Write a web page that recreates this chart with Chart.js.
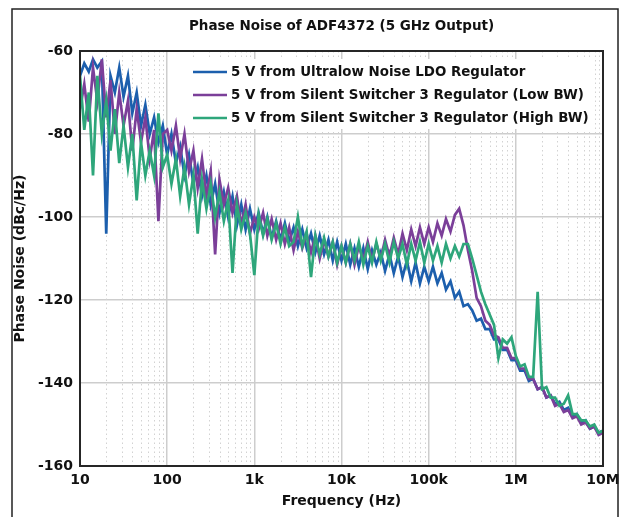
<!DOCTYPE html>
<html>
<head>
<meta charset="utf-8">
<script src="https://cdn.jsdelivr.net/npm/chart.js@4.4.1/dist/chart.umd.min.js"></script>
<style>
    html, body { margin: 0; padding: 0; background: #fff; }
    canvas { display: block; }
</style>
</head>
<body>
<canvas id="chart" width="620" height="517"></canvas>
<script>
// offset frequency (Hz), 20 points per decade
const frequencies = [
    10, 11.2, 12.6, 14.1, 15.8, 17.8, 20, 22.4, 25.1, 28.2,
    31.6, 35.5, 39.8, 44.7, 50.1, 56.2, 63.1, 70.8, 79.4, 89.1,
    100, 112, 126, 141, 158, 178, 200, 224, 251, 282,
    316, 355, 398, 447, 501, 562, 631, 708, 794, 891,
    1000, 1120, 1260, 1410, 1580, 1780, 2000, 2240, 2510, 2820,
    3160, 3550, 3980, 4470, 5010, 5620, 6310, 7080, 7940, 8910,
    1e4, 1.12e4, 1.26e4, 1.41e4, 1.58e4, 1.78e4, 2e4, 2.24e4, 2.51e4, 2.82e4,
    3.16e4, 3.55e4, 3.98e4, 4.47e4, 5.01e4, 5.62e4, 6.31e4, 7.08e4, 7.94e4, 8.91e4,
    1e5, 1.12e5, 1.26e5, 1.41e5, 1.58e5, 1.78e5, 2e5, 2.24e5, 2.51e5, 2.82e5,
    3.16e5, 3.55e5, 3.98e5, 4.47e5, 5.01e5, 5.62e5, 6.31e5, 7.08e5, 7.94e5, 8.91e5,
    1e6, 1.12e6, 1.26e6, 1.41e6, 1.58e6, 1.78e6, 2e6, 2.24e6, 2.51e6, 2.82e6,
    3.16e6, 3.55e6, 3.98e6, 4.47e6, 5.01e6, 5.62e6, 6.31e6, 7.08e6, 7.94e6, 8.91e6,
    1e7
];

// phase noise (dBc/Hz)
const ldoNoise = [
    -66, -63, -65, -62, -64, -62.5, -104, -66, -70, -64,
    -71, -66, -75, -70, -78, -73, -80, -76, -82, -78,
    -85, -80, -87, -83, -90, -85, -92, -88, -95, -90,
    -97, -92, -99, -94, -100, -95, -102, -97, -103, -98,
    -103, -99, -104, -100, -105, -101, -105.5, -101.5, -106, -102.5,
    -107, -103, -107.5, -104, -108.5, -104.5, -109, -105.5, -110.5, -106,
    -110.5, -106.5, -111.5, -107.5, -112, -107.5, -112.5, -108, -111.5, -108.5,
    -113, -109, -113.5, -109.5, -114.5, -110.5, -115.5, -111, -116, -112,
    -115.5, -112, -116, -113.5, -117.5, -115.5, -119.5, -118, -121.5, -121,
    -122.5, -125, -124.5, -127, -127, -129.5, -129.5, -132, -132, -134.5,
    -134.5, -137, -137, -139.5, -139, -141.5, -141, -143.5, -143, -145,
    -144.5, -146.5, -146, -148, -147.5, -149.5, -149, -151, -150.5, -152,
    -151.5
];

const lowBwNoise = [
    -74, -68, -77, -64, -72, -62, -76, -67, -80, -70,
    -78, -72, -84, -74, -82, -76, -86, -79, -101, -80,
    -79, -84, -78, -86, -80, -89, -84, -93, -86, -95,
    -89, -109, -91, -97, -93, -99, -95, -102, -97, -104,
    -100, -103, -99, -104.5, -100.5, -105.5, -101.5, -106.5, -102.5, -108,
    -103.5, -107.5, -104, -108.5, -104.5, -110, -105.5, -109.5, -106, -111.5,
    -107, -111, -106.5, -111.5, -107, -110.5, -106, -110.5, -106.5, -110,
    -105.5, -109.5, -105, -109, -104, -108, -103, -107, -102.5, -106.5,
    -102.5, -106, -101.5, -104.5, -100.5, -103.5, -99.5, -98, -102, -108,
    -113, -119.5, -121.5, -125, -126, -128.5, -129, -131.5, -131.5, -134,
    -134, -136.5, -136.5, -139, -139, -141.5, -141, -143.5, -143, -145.5,
    -145, -147, -146.5, -148.5, -148, -150, -149.5, -151, -150.5, -152.5,
    -152
];

const highBwNoise = [
    -66, -79, -70, -90, -66, -80, -72, -84, -74, -87,
    -78, -88, -80, -96, -82, -90, -84, -90, -75, -88,
    -85, -92, -86, -95, -88, -97, -90, -104, -91, -98,
    -92, -100, -94, -101, -96, -113.5, -97, -103, -99, -104,
    -114, -99.5, -104.5, -100.5, -105.5, -101.5, -106.5, -102.5, -107, -106,
    -100, -107, -103.5, -114.5, -104.5, -109, -105, -109.5, -106, -111,
    -107, -111, -106.5, -110.5, -106, -111.5, -107, -111, -106, -110.5,
    -106.5, -111, -106, -110, -106.5, -111.5, -106.5, -110.5, -106, -111,
    -106.5, -110.5, -107, -111, -106.5, -110, -107, -109.5, -106.5, -106.5,
    -110, -114, -118, -121, -123.5, -126, -134, -129.5, -130.5, -129,
    -133.5, -136, -135.5, -138.5, -138.5, -118, -141.5, -141, -143.5, -143.5,
    -145.5, -145, -143, -147.5, -147.5, -149, -149, -150.5, -150, -152,
    -151.5
];

const seriesNames = [
    '5 V from Ultralow Noise LDO Regulator',
    '5 V from Silent Switcher 3 Regulator (Low BW)',
    '5 V from Silent Switcher 3 Regulator (High BW)'
];
const seriesColors = ['#1c5fad', '#7b3f99', '#2ea67b'];

const xTickValues = [10, 100, 1e3, 1e4, 1e5, 1e6, 1e7];
const xTickLabels = ['10', '100', '1k', '10k', '100k', '1M', '10M'];
const yTickValues = [-160, -140, -120, -100, -80, -60];

const FONT = 'DejaVu Sans';
Chart.defaults.font.family = FONT;
Chart.defaults.color = '#111';

function toPoints(values) {
    return values.map((v, i) => ({ x: frequencies[i], y: v }));
}

const extras = {
    id: 'extras',
    beforeDatasetsDraw(chart) {
        // dotted minor grid between decades
        const { ctx, chartArea: a, scales: { x } } = chart;
        ctx.save();
        ctx.strokeStyle = '#d2d2d2';
        ctx.lineWidth = 1;
        ctx.setLineDash([1.5, 3]);
        xTickValues.slice(0, -1).forEach(d => {
            for (let m = 2; m <= 9; m++) {
                const px = Math.round(x.getPixelForValue(d * m)) + 0.5;
                ctx.beginPath();
                ctx.moveTo(px, a.top);
                ctx.lineTo(px, a.bottom);
                ctx.stroke();
            }
        });
        ctx.restore();
    },
    afterDatasetsDraw(chart) {
        const { ctx, chartArea: a } = chart;
        ctx.save();
        // legend
        const lx = a.left + 113, ly = a.top + 21;
        ctx.fillStyle = '#fff';
        ctx.fillRect(lx - 7, ly - 13, 405, 70);
        ctx.font = 'bold 13.4px "' + FONT + '"';
        ctx.textBaseline = 'middle';
        seriesNames.forEach((name, k) => {
            const y = ly + k * 23;
            ctx.strokeStyle = seriesColors[k];
            ctx.lineWidth = 2.5;
            ctx.beginPath();
            ctx.moveTo(lx, y);
            ctx.lineTo(lx + 34, y);
            ctx.stroke();
            ctx.fillStyle = '#111';
            ctx.fillText(name, lx + 38, y + 0.5);
        });
        // plot frame
        ctx.strokeStyle = '#262626';
        ctx.lineWidth = 2;
        ctx.strokeRect(a.left, a.top, a.right - a.left, a.bottom - a.top);
        ctx.restore();
    },
    afterDraw(chart) {
        const { ctx } = chart;
        ctx.save();
        ctx.strokeStyle = '#222';
        ctx.lineWidth = 1.5;
        ctx.strokeRect(12, 9, 606, 530);
        ctx.restore();
    }
};

new Chart(document.getElementById('chart'), {
    type: 'line',
    data: {
        datasets: [
            { label: seriesNames[0], data: toPoints(ldoNoise), borderColor: seriesColors[0], order: 2 },
            { label: seriesNames[1], data: toPoints(lowBwNoise), borderColor: seriesColors[1], order: 1 },
            { label: seriesNames[2], data: toPoints(highBwNoise), borderColor: seriesColors[2], order: 0 }
        ]
    },
    options: {
        responsive: false,
        animation: false,
        elements: {
            point: { radius: 0 },
            line: { borderWidth: 2.7, tension: 0 }
        },
        layout: { padding: { left: 0, right: 17, top: 0, bottom: 0 } },
        plugins: {
            legend: { display: false },
            tooltip: { enabled: false },
            title: {
                display: true,
                text: 'Phase Noise of ADF4372 (5 GHz Output)',
                fullSize: false,
                color: '#111',
                font: { size: 13.5, weight: 'bold' },
                padding: { top: 17.9, bottom: 16.9 }
            }
        },
        scales: {
            x: {
                type: 'logarithmic',
                min: 10,
                max: 1e7,
                afterBuildTicks: scale => {
                    scale.ticks = xTickValues.map(v => ({ value: v }));
                },
                afterFit: scale => {
                    scale.height = 51;
                    scale.paddingLeft = 0;
                    scale.paddingRight = 0;
                },
                ticks: {
                    autoSkip: false,
                    maxRotation: 0,
                    padding: 6,
                    color: '#111',
                    font: { size: 14, weight: 'bold' },
                    callback: value => xTickLabels[xTickValues.indexOf(value)] ?? ''
                },
                grid: { color: '#cdcdcd', lineWidth: 1.5, drawTicks: false },
                border: { display: false },
                title: {
                    display: true,
                    text: 'Frequency (Hz)',
                    color: '#111',
                    font: { size: 14, weight: 'bold' },
                    padding: { top: 4, bottom: 7 }
                }
            },
            y: {
                min: -160,
                max: -60,
                afterBuildTicks: scale => {
                    scale.ticks = yTickValues.map(v => ({ value: v }));
                },
                afterFit: scale => { scale.width = 80; },
                ticks: {
                    padding: 7,
                    color: '#111',
                    font: { size: 14, weight: 'bold' },
                    callback: value => String(value)
                },
                grid: { color: '#cdcdcd', lineWidth: 1.5, drawTicks: false },
                border: { display: false },
                title: {
                    display: true,
                    text: 'Phase Noise (dBc/Hz)',
                    color: '#111',
                    font: { size: 14, weight: 'bold' },
                    padding: { top: 12, bottom: 4 }
                }
            }
        }
    },
    plugins: [extras]
});
</script>
</body>
</html>
